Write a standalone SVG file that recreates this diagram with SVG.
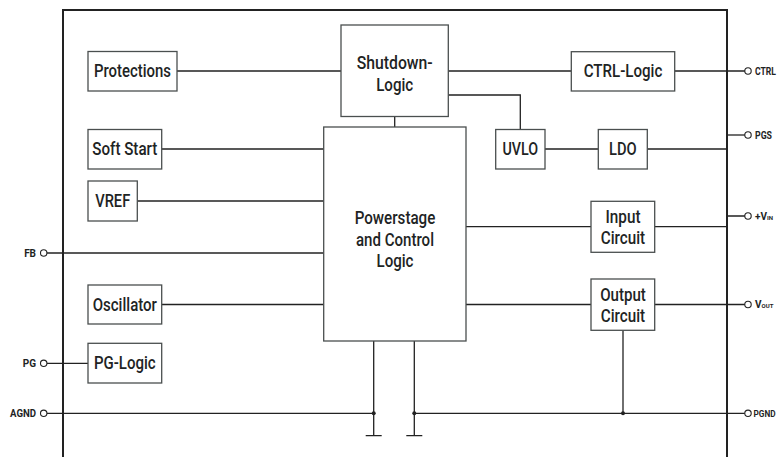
<svg xmlns="http://www.w3.org/2000/svg" width="779" height="457" viewBox="0 0 779 457">
<style>
.box{fill:#fff;stroke:#4a4f4f;stroke-width:1.3}
.w{fill:none;stroke:#222;stroke-width:1.3}
.t{font-family:Roboto,"Liberation Sans",sans-serif;font-weight:500;font-size:18px;fill:#1e2424;text-anchor:middle}
.p{font-family:Roboto,"Liberation Sans",sans-serif;font-weight:bold;font-size:10px;fill:#1e2424}
.pin{fill:#fff;stroke:#222;stroke-width:1.1}
.dot{fill:#222}
</style>
<rect width="779" height="457" fill="#fff"/>
<g id="connectors">
<path class="w" d="M177,71H341M448,71H571M674.7,71H745"/>
<path class="w" d="M448,95H520.3V129.5"/>
<path class="w" d="M394.7,116.5V127"/>
<path class="w" d="M161.7,149H323.7M545,149H598.3M647.3,149H727"/>
<path class="w" d="M727,135H745"/>
<path class="w" d="M137.3,201H323.7"/>
<path class="w" d="M47,253H323.7"/>
<path class="w" d="M161.7,304.5H323.7"/>
<path class="w" d="M466,226.7H591M654.7,226.7H727M727,216H745"/>
<path class="w" d="M466,304.5H591M654.7,304.5H745"/>
<path class="w" d="M623,330.3V413.3"/>
<path class="w" d="M47,363.3H88"/>
<path class="w" d="M47,413.3H373.7M414.3,413.3H745"/>
<path class="w" d="M373.7,341V435.7M365.7,435.7H381.7M414.3,341V435.7M406.3,435.7H422.3"/>
<circle class="dot" cx="373.7" cy="413.3" r="2"/>
<circle class="dot" cx="414.3" cy="413.3" r="2"/>
<circle class="dot" cx="623" cy="413.3" r="2"/>
</g>
<g id="border"><path d="M63,460V10H727V460" fill="none" stroke="#222" stroke-width="2"/></g>
<g id="protections"><rect class="box" x="88" y="51.5" width="89" height="39.5"/><text class="t" x="132.5" y="77" textLength="77" lengthAdjust="spacingAndGlyphs">Protections</text></g>
<g id="shutdown"><rect class="box" x="341" y="25" width="107.3" height="91.5"/><text class="t" x="394.7" y="69.3" textLength="76" lengthAdjust="spacingAndGlyphs">Shutdown-</text><text class="t" x="394.7" y="91" textLength="37" lengthAdjust="spacingAndGlyphs">Logic</text></g>
<g id="ctrl-logic"><rect class="box" x="571.3" y="51.7" width="103.4" height="39.3"/><text class="t" x="623" y="77" textLength="78.7" lengthAdjust="spacingAndGlyphs">CTRL-Logic</text></g>
<g id="softstart"><rect class="box" x="88" y="129.5" width="73.7" height="39.5"/><text class="t" x="124.8" y="155" textLength="65" lengthAdjust="spacingAndGlyphs">Soft Start</text></g>
<g id="uvlo"><rect class="box" x="495.7" y="129.5" width="49.3" height="39.5"/><text class="t" x="520.3" y="155" textLength="35.7" lengthAdjust="spacingAndGlyphs">UVLO</text></g>
<g id="ldo"><rect class="box" x="598.3" y="129.5" width="49" height="39.5"/><text class="t" x="622.8" y="155" textLength="27.7" lengthAdjust="spacingAndGlyphs">LDO</text></g>
<g id="vref"><rect class="box" x="88" y="181" width="49.3" height="40"/><text class="t" x="112.7" y="206.7" textLength="35" lengthAdjust="spacingAndGlyphs">VREF</text></g>
<g id="powerstage"><rect class="box" x="323.7" y="127" width="142.3" height="214"/><text class="t" x="395" y="224" textLength="80.7" lengthAdjust="spacingAndGlyphs">Powerstage</text><text class="t" x="395" y="245.5" textLength="78" lengthAdjust="spacingAndGlyphs">and Control</text><text class="t" x="395" y="267" textLength="37" lengthAdjust="spacingAndGlyphs">Logic</text></g>
<g id="input"><rect class="box" x="591" y="201.3" width="63.7" height="51"/><text class="t" x="623" y="222.7" textLength="35" lengthAdjust="spacingAndGlyphs">Input</text><text class="t" x="623" y="244.3" textLength="44.3" lengthAdjust="spacingAndGlyphs">Circuit</text></g>
<g id="output"><rect class="box" x="591" y="279" width="63.7" height="51.3"/><text class="t" x="623" y="300.7" textLength="45.7" lengthAdjust="spacingAndGlyphs">Output</text><text class="t" x="623" y="322.3" textLength="44.3" lengthAdjust="spacingAndGlyphs">Circuit</text></g>
<g id="oscillator"><rect class="box" x="88" y="285" width="73.7" height="39"/><text class="t" x="124.8" y="311" textLength="64.3" lengthAdjust="spacingAndGlyphs">Oscillator</text></g>
<g id="pglogic"><rect class="box" x="88" y="343.3" width="73.7" height="39.7"/><text class="t" x="124.8" y="368.8" textLength="61.7" lengthAdjust="spacingAndGlyphs">PG-Logic</text></g>
<g id="pins">
<circle class="pin" cx="748" cy="71" r="3.2"/><text class="p" x="755" y="74.5" textLength="21" lengthAdjust="spacingAndGlyphs">CTRL</text>
<circle class="pin" cx="748" cy="135" r="3.2"/><text class="p" x="755" y="138.5" textLength="17" lengthAdjust="spacingAndGlyphs">PGS</text>
<circle class="pin" cx="748" cy="216" r="3.2"/><text class="p" x="755" y="219.5">+V<tspan font-size="6">IN</tspan></text>
<circle class="pin" cx="748" cy="304.5" r="3.2"/><text class="p" x="755" y="308">V<tspan font-size="6">OUT</tspan></text>
<circle class="pin" cx="748" cy="413.3" r="3.2"/><text class="p" x="753.5" y="416.5" style="font-size:8.5px" textLength="22" lengthAdjust="spacingAndGlyphs">PGND</text>
<circle class="pin" cx="43.7" cy="253" r="3.2"/><text class="p" x="36" y="256.5" text-anchor="end">FB</text>
<circle class="pin" cx="43.7" cy="363.3" r="3.2"/><text class="p" x="36" y="366.8" text-anchor="end">PG</text>
<circle class="pin" cx="43.7" cy="413.3" r="3.2"/><text class="p" x="36" y="416.8" text-anchor="end" textLength="26" lengthAdjust="spacingAndGlyphs">AGND</text>
</g>
</svg>
